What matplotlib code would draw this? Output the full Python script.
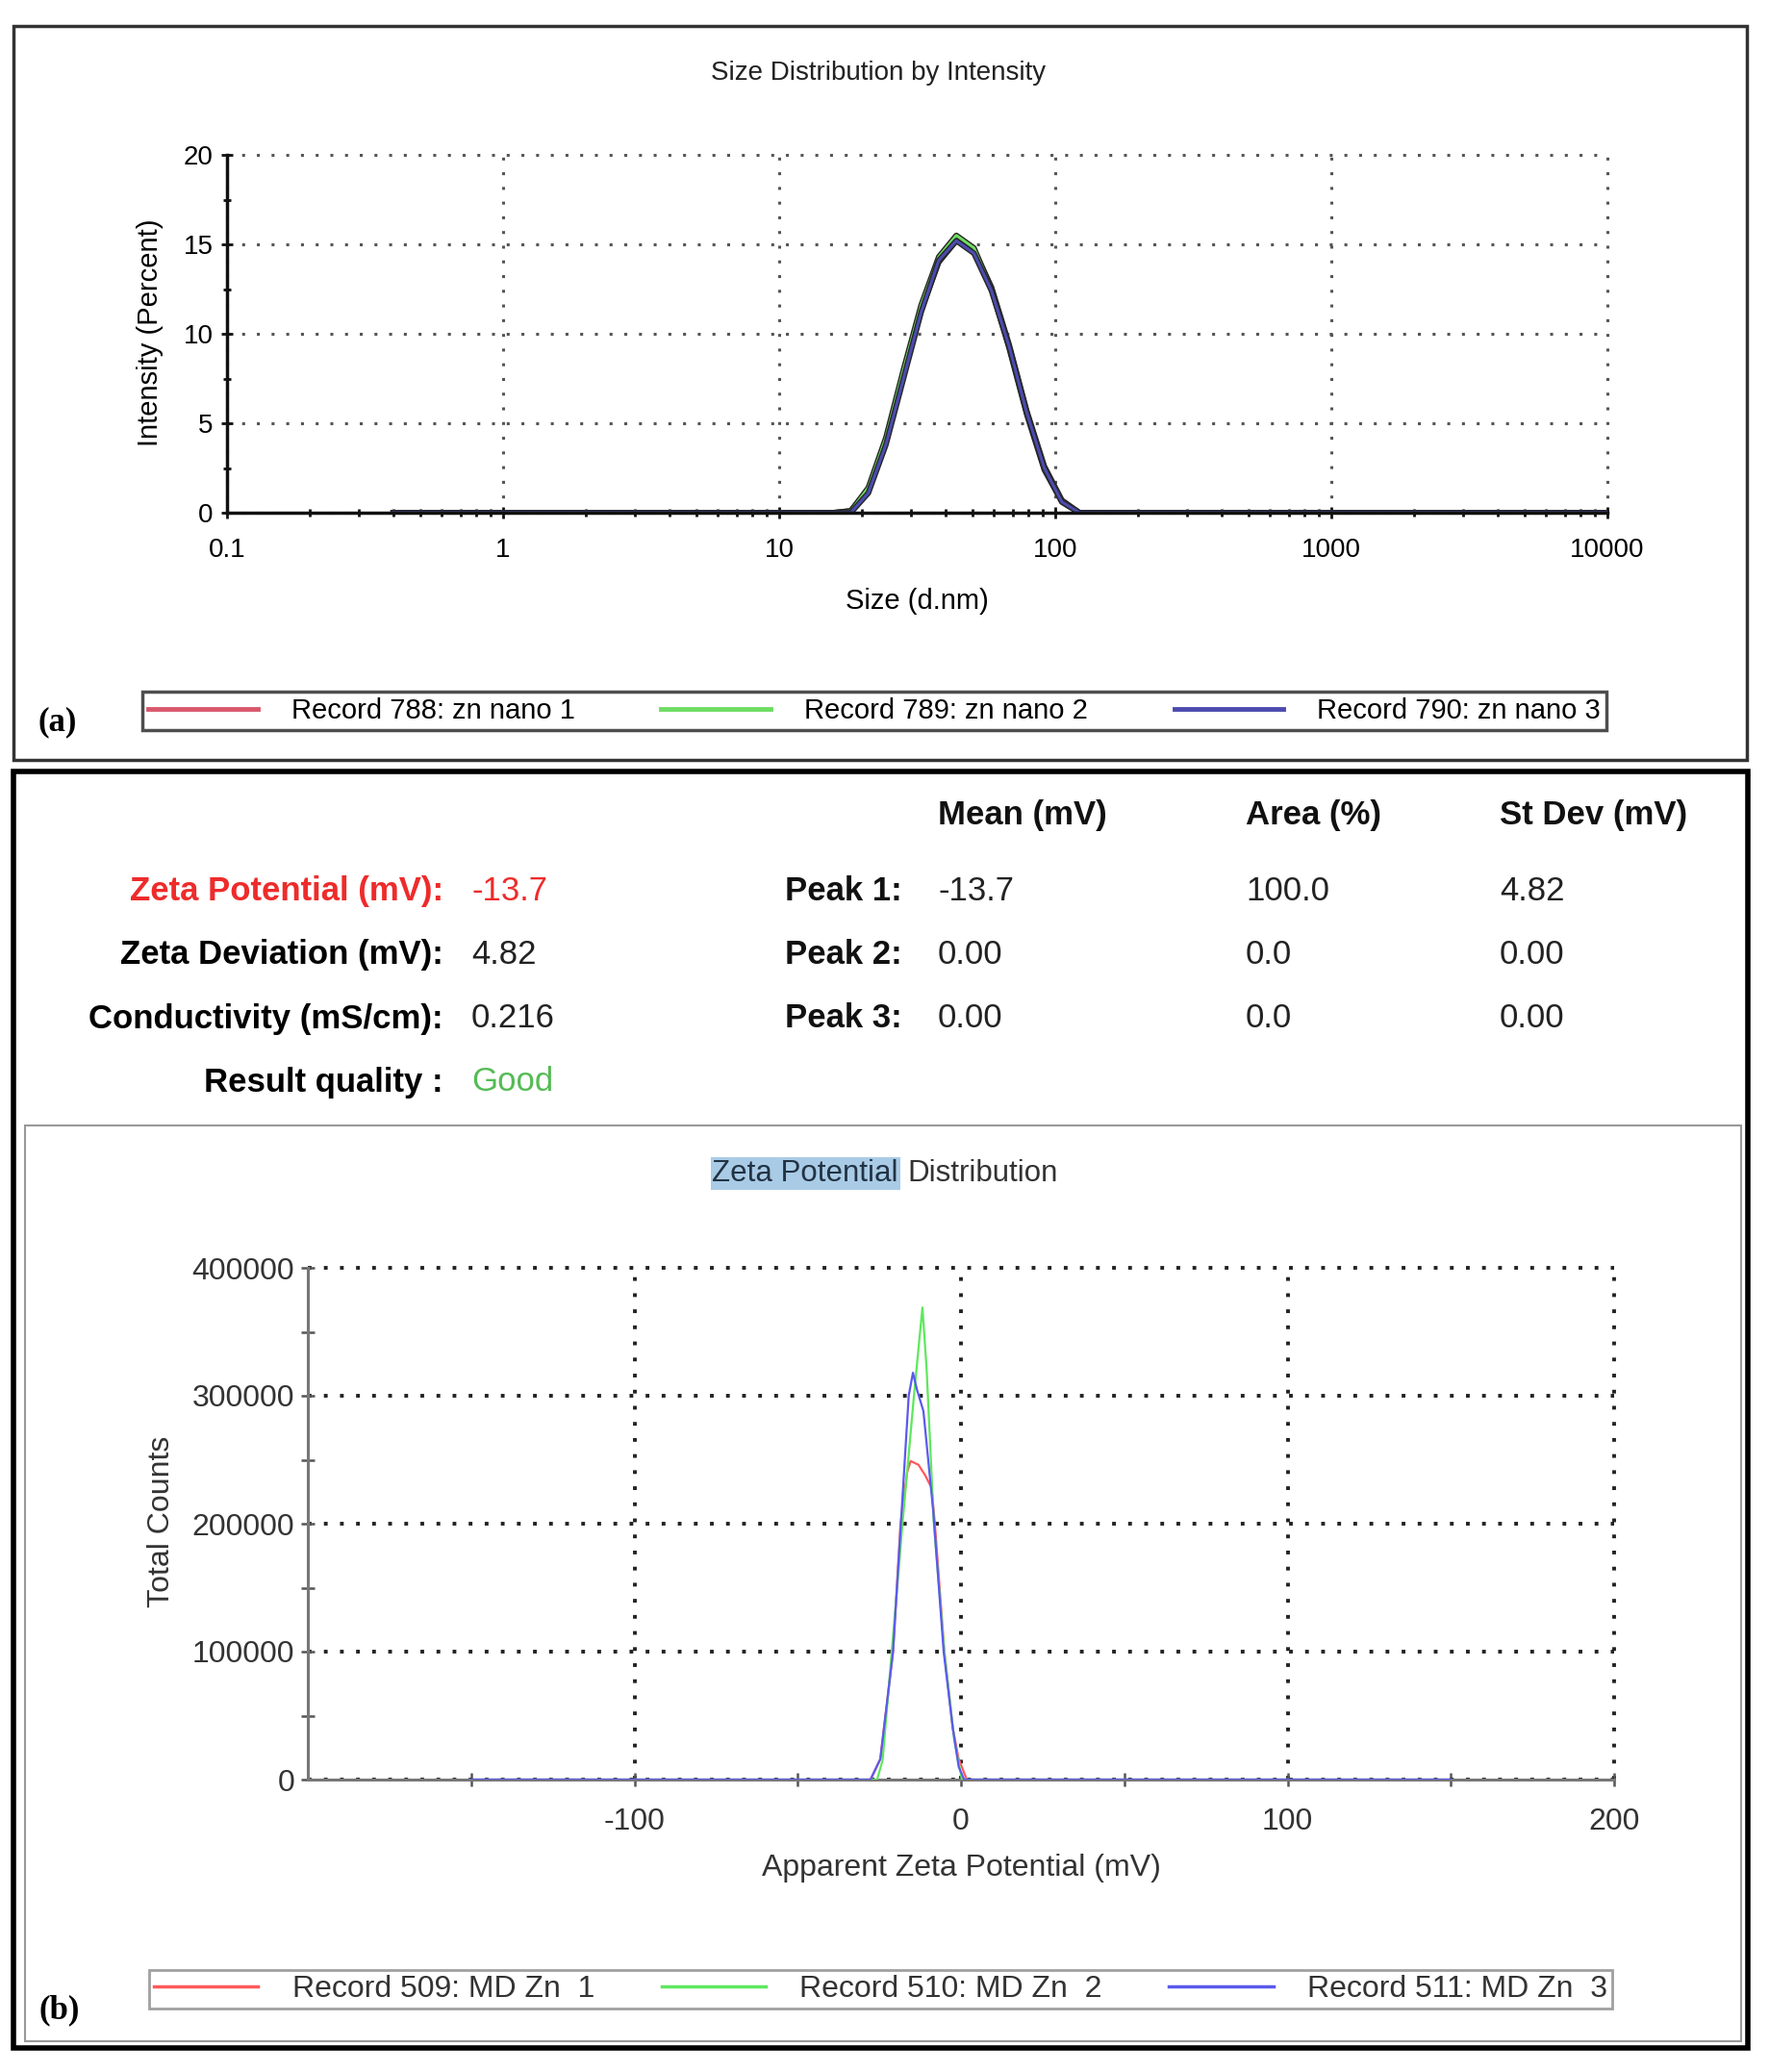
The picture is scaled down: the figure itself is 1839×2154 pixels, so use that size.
import matplotlib
matplotlib.use('Agg')
import matplotlib.pyplot as plt
from matplotlib.patches import Rectangle
from matplotlib.lines import Line2D
import matplotlib.patheffects as pe
from matplotlib.ticker import MultipleLocator, LogLocator, FixedLocator, NullFormatter, FuncFormatter

plt.rcParams['font.family'] = ['Liberation Sans', 'DejaVu Sans']
plt.rcParams['axes.unicode_minus'] = False

# ---- (a) size distribution by intensity ----
size_nm = [0.4, 15.69, 18.17, 21.04, 24.36, 28.21, 32.67, 37.84, 43.82, 50.75,
           58.77, 68.06, 78.82, 91.28, 105.7, 122.4, 141.8, 10000]
rec788 = [0, 0, 0.1, 1.3, 4.0, 7.7, 11.3, 14.0, 15.2, 14.7, 12.6, 9.4, 5.7, 2.6, 0.7, 0, 0, 0]
rec789 = [0, 0, 0.1, 1.4, 4.2, 8.0, 11.6, 14.3, 15.5, 14.8, 12.5, 9.2, 5.5, 2.4, 0.6, 0, 0, 0]
rec790 = [0, 0, 0.0, 1.1, 3.8, 7.5, 11.2, 14.1, 15.2, 14.5, 12.4, 9.3, 5.6, 2.5, 0.6, 0, 0, 0]
labels_a = ['Record 788: zn nano 1', 'Record 789: zn nano 2', 'Record 790: zn nano 3']
colors_a = ['#d9586c', '#6edc62', '#4b4bb0']
xticks_a = [0.1, 1, 10, 100, 1000, 10000]
xticklabels_a = ['0.1', '1', '10', '100', '1000', '10000']

# ---- (b) zeta potential distribution ----
zeta_509 = [-150, -27.7, -24.7, -20.8, -18.5, -16.5, -15.4, -13.0, -11.0, -9.0, -8.0, -5.1, -2.5, -0.7, 1.8, 150]
counts_509 = [0, 0, 16000, 100000, 200000, 240000, 249000, 246000, 238000, 228000, 200000, 100000, 40000, 16000, 0, 0]
zeta_510 = [-150, -25.7, -24.0, -17.9, -14.4, -11.8, -10.5, -8.3, -5.1, -2.0, 0.3, 150]
counts_510 = [0, 0, 15000, 200000, 300000, 369000, 320000, 200000, 100000, 30000, 0, 0]
zeta_511 = [-150, -27.7, -24.7, -20.8, -18.4, -16.0, -14.7, -13.5, -11.5, -8.5, -5.3, -2.5, -0.7, 1.0, 150]
counts_511 = [0, 0, 16000, 100000, 200000, 300000, 318000, 305000, 288000, 210000, 100000, 40000, 10000, 0, 0]
labels_b = ['Record 509: MD Zn  1', 'Record 510: MD Zn  2', 'Record 511: MD Zn  3']
colors_b = ['#ff5a5a', '#5ee85e', '#5a5aee']

# table values
left_labels = ['Zeta Potential (mV):', 'Zeta Deviation (mV):', 'Conductivity (mS/cm):', 'Result quality :']
left_values = ['-13.7', '4.82', '0.216', 'Good']
peak_names = ['Peak 1:', 'Peak 2:', 'Peak 3:']
col_heads = ['Mean (mV)', 'Area (%)', 'St Dev (mV)']
peak_mean = ['-13.7', '0.00', '0.00']
peak_area = ['100.0', '0.0', '0.0']
peak_sd = ['4.82', '0.00', '0.00']

W, H = 1839, 2154


def fx(x):
    return x / W


def fy(y):
    return 1 - y / H


fig = plt.figure(figsize=(W / 100, H / 100), dpi=100)

# panel frames
fig.patches.append(Rectangle((fx(14), fy(790)), fx(1816) - fx(14), fy(27) - fy(790),
                             transform=fig.transFigure, fill=False, lw=2.5, ec='#333333'))
fig.patches.append(Rectangle((fx(14), fy(2129)), fx(1817) - fx(14), fy(802) - fy(2129),
                             transform=fig.transFigure, fill=False, lw=4, ec='black'))
fig.patches.append(Rectangle((fx(26), fy(2122)), fx(1810) - fx(26), fy(1170) - fy(2122),
                             transform=fig.transFigure, fill=False, lw=1.5, ec='#999999'))

# ---------------- panel (a) ----------------
ax1 = fig.add_axes([fx(236), fy(533), fx(1671) - fx(236), fy(161) - fy(533)])
for y, c in zip([rec788, rec789, rec790], colors_a):
    ax1.plot(size_nm, y, color=c, lw=2.2, solid_joinstyle='round',
             path_effects=[pe.Stroke(linewidth=4.2, foreground='#262626'), pe.Normal()])
ax1.set_xscale('log')
ax1.set_xlim(0.1, 10000)
ax1.set_ylim(0, 20)
ax1.xaxis.set_major_locator(FixedLocator(xticks_a))
ax1.set_xticklabels(xticklabels_a)
ax1.xaxis.set_minor_locator(LogLocator(base=10, subs=range(2, 10)))
ax1.xaxis.set_minor_formatter(NullFormatter())
ax1.yaxis.set_major_locator(MultipleLocator(5))
ax1.yaxis.set_minor_locator(MultipleLocator(2.5))
for s in ['top', 'right']:
    ax1.spines[s].set_visible(False)
for s in ['left', 'bottom']:
    ax1.spines[s].set_linewidth(2.5)
    ax1.spines[s].set_color('#111111')
ax1.tick_params(which='both', direction='inout', color='#111111', width=2)
ax1.tick_params(which='major', length=9)
ax1.tick_params(which='minor', length=6)
ax1.tick_params(axis='x', which='major', pad=14, labelsize=20)
ax1.tick_params(axis='y', which='major', pad=6, labelsize=20)
ax1.grid(True, which='major', color='#555555', lw=2.2, linestyle=(0, (1, 4)))
for gl in ax1.get_xgridlines() + ax1.get_ygridlines():
    gl.set_clip_on(False)
ax1.set_axisbelow(True)
ax1.set_xlabel('Size (d.nm)', fontsize=21)
ax1.set_ylabel('Intensity (Percent)', fontsize=21)
ax1.xaxis.set_label_coords(0.5, -0.247)
ax1.xaxis.label.set_va('center')
ax1.yaxis.set_label_coords(-0.056, 0.503)
ax1.yaxis.label.set_va('center')
fig.text(fx(913), fy(76), 'Size Distribution by Intensity', fontsize=20,
         ha='center', va='center', color='#222222')

handles_a = [Line2D([], [], color=c, lw=3.5) for c in colors_a]
leg_a = fig.legend(handles_a, labels_a, loc='center', ncol=3, mode='expand',
                   bbox_to_anchor=(fx(148), fy(764), fx(1670) - fx(148), fy(714) - fy(764)),
                   fontsize=21, handlelength=3.9, handletextpad=1.2, borderpad=0.2,
                   borderaxespad=0, columnspacing=3.0, fancybox=False, frameon=True)
leg_a.get_frame().set_edgecolor('#222222')
leg_a.get_frame().set_linewidth(2.5)
fig.text(fx(60), fy(751), '(a)', fontsize=25, fontweight='bold',
         family='Liberation Serif', ha='center', va='center')

# ---------------- table ----------------
tab_fs = 25
row_y = [927, 993, 1059, 1125]
for i, (lab, val) in enumerate(zip(left_labels, left_values)):
    lab_color = '#ee2b2b' if i == 0 else 'black'
    val_color = '#ee2b2b' if i == 0 else ('#55bb55' if i == 3 else '#222222')
    fig.text(fx(461), fy(row_y[i]), lab, fontsize=tab_fs, fontweight='bold',
             ha='right', va='center', color=lab_color)
    fig.text(fx(490), fy(row_y[i]), val, fontsize=tab_fs, ha='left', va='center',
             color=val_color)
col_x = [975, 1295, 1559]
for cx, head in zip(col_x, col_heads):
    fig.text(fx(cx), fy(847), head, fontsize=tab_fs, fontweight='bold',
             ha='left', va='center', color='#111111')
for i, name in enumerate(peak_names):
    fig.text(fx(938), fy(row_y[i]), name, fontsize=tab_fs, fontweight='bold',
             ha='right', va='center', color='#111111')
    for cx, col in zip(col_x, [peak_mean, peak_area, peak_sd]):
        fig.text(fx(cx), fy(row_y[i]), col[i], fontsize=tab_fs, ha='left',
                 va='center', color='#222222')

# ---------------- panel (b) ----------------
ax2 = fig.add_axes([fx(320), fy(1850), fx(1678) - fx(320), fy(1318) - fy(1850)])
for xz, yc, c in zip([zeta_509, zeta_510, zeta_511], [counts_509, counts_510, counts_511], colors_b):
    ax2.plot(xz, yc, color=c, lw=1.6, zorder=3)
ax2.set_xlim(-200, 200)
ax2.set_ylim(0, 400000)
ax2.xaxis.set_major_locator(FixedLocator([-100, 0, 100, 200]))
ax2.xaxis.set_minor_locator(FixedLocator([-150, -50, 50, 150]))
ax2.yaxis.set_major_locator(MultipleLocator(100000))
ax2.yaxis.set_minor_locator(MultipleLocator(50000))
ax2.yaxis.set_major_formatter(FuncFormatter(lambda v, p: f'{v:.0f}'))
for s in ['top', 'right']:
    ax2.spines[s].set_visible(False)
for s in ['left', 'bottom']:
    ax2.spines[s].set_linewidth(2.2)
    ax2.spines[s].set_color('#777777')
ax2.tick_params(which='both', direction='inout', color='#555555', width=1.8, length=10)
ax2.tick_params(axis='x', which='major', pad=16, labelsize=23, labelcolor='#333333')
ax2.tick_params(axis='y', which='major', pad=5, labelsize=23, labelcolor='#333333')
ax2.grid(True, which='major', color='#222222', lw=2.8, linestyle=(0, (1, 3.3)))
for gl in ax2.get_xgridlines() + ax2.get_ygridlines():
    gl.set_clip_on(False)
ax2.set_axisbelow(True)
ax2.set_xlabel('Apparent Zeta Potential (mV)', fontsize=23, color='#333333')
ax2.set_ylabel('Total Counts', fontsize=23, color='#333333')
ax2.xaxis.set_label_coords(0.5, -0.173)
ax2.xaxis.label.set_va('center')
ax2.yaxis.set_label_coords(-0.112, 0.504)
ax2.yaxis.label.set_va('center')

fig.text(fx(934), fy(1220), 'Zeta Potential', fontsize=22.5, ha='right', va='center',
         color='#223344', bbox=dict(boxstyle='square,pad=0.05', fc='#a9cbe6', ec='none'))
fig.text(fx(943), fy(1220), 'Distribution', fontsize=22.5, ha='left', va='center',
         color='#333333')

handles_b = [Line2D([], [], color=c, lw=2.5) for c in colors_b]
leg_b = fig.legend(handles_b, labels_b, loc='center', ncol=3, mode='expand',
                   bbox_to_anchor=(fx(155), fy(2090), fx(1676) - fx(155), fy(2046) - fy(2090)),
                   fontsize=23, handlelength=3.4, handletextpad=1.1, borderpad=0.15,
                   borderaxespad=0, columnspacing=3.0, fancybox=False, frameon=True)
leg_b.get_frame().set_edgecolor('#888888')
leg_b.get_frame().set_linewidth(2)
for t in leg_b.get_texts():
    t.set_color('#333333')
fig.text(fx(62), fy(2090), '(b)', fontsize=25, fontweight='bold',
         family='Liberation Serif', ha='center', va='center')

fig.savefig('out.png', dpi=100, facecolor='white')
